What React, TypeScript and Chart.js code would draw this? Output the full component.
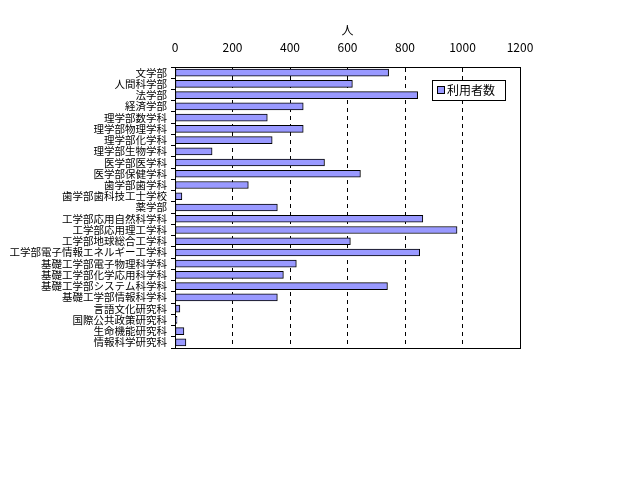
import React, { useEffect, useRef } from "react";
import { Chart, registerables } from "chart.js";

Chart.register(...registerables);

const categories = [
  "文学部",
  "人間科学部",
  "法学部",
  "経済学部",
  "理学部数学科",
  "理学部物理学科",
  "理学部化学科",
  "理学部生物学科",
  "医学部医学科",
  "医学部保健学科",
  "歯学部歯学科",
  "歯学部歯科技工士学校",
  "薬学部",
  "工学部応用自然科学科",
  "工学部応用理工学科",
  "工学部地球総合工学科",
  "工学部電子情報エネルギー工学科",
  "基礎工学部電子物理科学科",
  "基礎工学部化学応用科学科",
  "基礎工学部システム科学科",
  "基礎工学部情報科学科",
  "言語文化研究科",
  "国際公共政策研究科",
  "生命機能研究科",
  "情報科学研究科",
];

const seriesLabel = "利用者数";
const values = [743, 617, 844, 446, 321, 446, 338, 129, 520, 645, 255, 24, 356, 862, 981, 610, 851, 422, 377, 739, 356, 17, 7, 31, 38];

const axisTitle = "人";
const xMin = 0;
const xMax = 1200;
const xStep = 200;

const FONT = "'Noto Sans CJK JP', 'Noto Sans', sans-serif";

const boxPlugin = {
  id: "boxAndLegend",
  afterDraw(chart: any) {
    const { ctx, chartArea } = chart;
    ctx.save();
    ctx.strokeStyle = "#000";
    ctx.lineWidth = 1;
    ctx.setLineDash([]);
    ctx.strokeRect(
      Math.round(chartArea.left) + 0.5,
      Math.round(chartArea.top) + 0.5,
      Math.round(chartArea.right - chartArea.left),
      Math.round(chartArea.bottom - chartArea.top)
    );
    // legend
    const lx = 432.5;
    const ly = 80.5;
    const lw = 73;
    const lh = 20;
    ctx.fillStyle = "#fff";
    ctx.fillRect(lx, ly, lw, lh);
    ctx.strokeRect(lx, ly, lw, lh);
    ctx.fillStyle = "#9999FF";
    ctx.fillRect(437.5, 86.5, 7, 7);
    ctx.strokeRect(437.5, 86.5, 7, 7);
    ctx.fillStyle = "#000";
    ctx.font = `12px ${FONT}`;
    ctx.textBaseline = "middle";
    ctx.textAlign = "left";
    ctx.fillText(seriesLabel, 447, 90.5);
    ctx.restore();
  },
};

export default function App() {
  const ref = useRef<HTMLCanvasElement>(null);
  useEffect(() => {
    const chart = new Chart(ref.current!, {
      type: "bar",
      data: {
        labels: categories,
        datasets: [
          {
            label: seriesLabel,
            data: values,
            backgroundColor: "#9999FF",
            borderColor: "#000000",
            borderWidth: 1,
            borderSkipped: false,
            barThickness: 7,
          },
        ],
      },
      options: {
        indexAxis: "y",
        animation: false,
        responsive: false,
        devicePixelRatio: 1,
        layout: { padding: { top: 23, right: 120, bottom: 132, left: 0 } },
        plugins: {
          legend: { display: false },
          tooltip: { enabled: false },
        },
        scales: {
          x: {
            position: "top",
            min: xMin,
            max: xMax,
            ticks: {
              stepSize: xStep,
              color: "#000",
              font: { family: FONT, size: 12 },
              padding: 12,
              maxRotation: 0,
              callback: (v: any) => String(v),
            },
            grid: {
              color: "#000",
              lineWidth: 1,
              drawTicks: false,
              tickLength: 0,
            },
            border: { display: true, color: "#000", dash: [4, 4] },
            title: {
              display: true,
              text: axisTitle,
              color: "#000",
              font: { family: FONT, size: 12 },
              padding: { top: 0, bottom: 0 },
            },
            afterFit(scale: any) {
              scale.height = 44;
            },
          } as any,
          y: {
            ticks: {
              color: "#000",
              font: { family: FONT, size: 10.5 },
              padding: 4,
              autoSkip: false,
            },
            grid: {
              drawOnChartArea: false,
              color: "#000",
              tickLength: 4,
              offset: true,
            },
            border: { display: true, color: "#000" },
            afterFit(scale: any) {
              scale.width = 175;
            },
          } as any,
        },
      },
      plugins: [boxPlugin],
    } as any);
    (chart.options.scales as any).x.grid.borderDash = [4, 4];
    (chart.options.scales as any).x.border.dash = [4, 4];
    chart.update();
    return () => chart.destroy();
  }, []);
  return (
    <div style={{ position: "fixed", left: 0, top: 0, width: 640, height: 480, background: "#fff" }}>
      <canvas ref={ref} width={640} height={480} style={{ width: 640, height: 480 }} />
    </div>
  );
}
